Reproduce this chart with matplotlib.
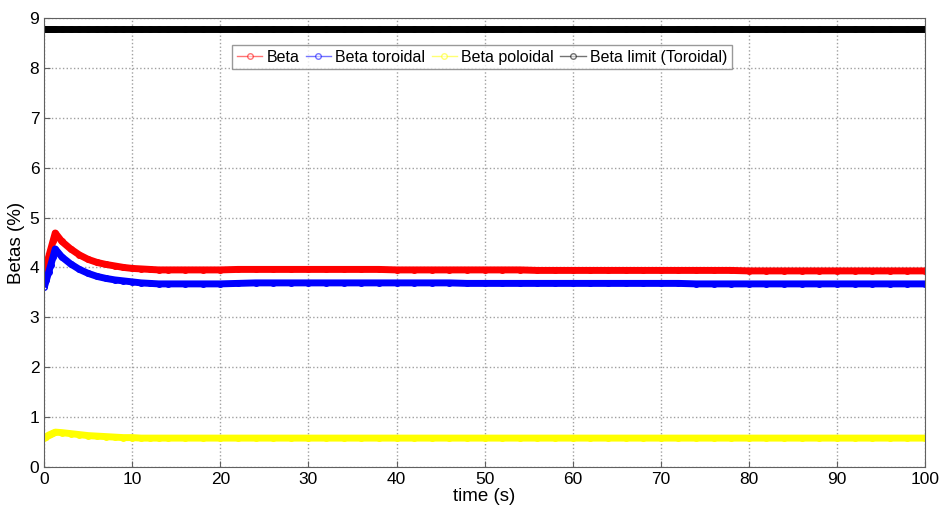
import matplotlib
matplotlib.use("Agg")
import matplotlib.pyplot as plt
from matplotlib.lines import Line2D

plt.rcParams['font.family'] = ['Liberation Sans', 'DejaVu Sans']

# time samples (s)
time = [0, 0.25, 0.5, 0.75, 1.0, 1.25, 2, 3, 4, 5, 6, 7, 8, 9, 10, 11, 12, 13, 14,
        16, 18, 20, 22, 24, 26, 28, 30, 32, 34, 36, 38, 40, 42, 44, 46, 48, 50,
        52, 54, 56, 58, 60, 62, 64, 66, 68, 70, 72, 74, 76, 78, 80, 82, 84, 86,
        88, 90, 92, 94, 96, 98, 100]

beta = [3.88, 4.05, 4.21, 4.37, 4.53, 4.69, 4.52, 4.37, 4.25, 4.16, 4.10, 4.06, 4.03,
        4.00, 3.98, 3.97, 3.96, 3.95, 3.95,
        3.95, 3.95, 3.95, 3.96, 3.96, 3.96, 3.96, 3.96, 3.96, 3.96, 3.96, 3.96, 3.95,
        3.95, 3.95, 3.95, 3.95, 3.95, 3.95, 3.95, 3.94, 3.94, 3.94, 3.94, 3.94, 3.94,
        3.94, 3.94, 3.94, 3.94, 3.94, 3.94, 3.93, 3.93, 3.93, 3.93, 3.93, 3.93, 3.93,
        3.93, 3.93, 3.93, 3.93]

beta_tor = [3.60, 3.75, 3.90, 4.05, 4.21, 4.37, 4.21, 4.07, 3.96, 3.88, 3.82, 3.78,
            3.75, 3.73, 3.71, 3.69, 3.68, 3.67, 3.67,
            3.67, 3.67, 3.67, 3.68, 3.69, 3.69, 3.69, 3.69, 3.69, 3.69, 3.69, 3.69,
            3.69, 3.69, 3.69, 3.69, 3.68, 3.68, 3.68, 3.68, 3.68, 3.68, 3.68, 3.68,
            3.68, 3.68, 3.68, 3.68, 3.68, 3.67, 3.67, 3.67, 3.67, 3.67, 3.67, 3.67,
            3.67, 3.67, 3.67, 3.67, 3.67, 3.67, 3.67]

beta_pol = [0.58, 0.61, 0.64, 0.66, 0.68, 0.70, 0.69, 0.67, 0.65, 0.63, 0.62, 0.61,
            0.60, 0.59, 0.59, 0.58, 0.58, 0.58, 0.58,
            0.58, 0.58, 0.58, 0.58, 0.58, 0.58, 0.58, 0.58, 0.58, 0.58, 0.58, 0.58,
            0.58, 0.58, 0.58, 0.58, 0.58, 0.58, 0.58, 0.58, 0.58, 0.58, 0.58, 0.58,
            0.58, 0.58, 0.58, 0.58, 0.58, 0.58, 0.58, 0.58, 0.58, 0.58, 0.58, 0.58,
            0.58, 0.58, 0.58, 0.58, 0.58, 0.58, 0.58]

beta_limit = [8.78] * len(time)

series = [
    (beta, '#ff0000', 'Beta'),
    (beta_tor, '#0000ff', 'Beta toroidal'),
    (beta_pol, '#ffff00', 'Beta poloidal'),
    (beta_limit, '#000000', 'Beta limit (Toroidal)'),
]

fig = plt.figure(figsize=(9.41, 5.11), dpi=100)
ax = fig.add_axes([0.047, 0.086, 0.936, 0.879])

for vals, col, lab in series:
    ax.plot(time, vals, color=col, lw=5, marker='o', markersize=4,
            markerfacecolor='none', markeredgecolor=col, markeredgewidth=1,
            solid_capstyle='butt', solid_joinstyle='round')

ax.set_xlim(0, 100)
ax.set_ylim(0, 9)
ax.set_xticks(range(0, 101, 10))
ax.set_yticks(range(0, 10))
ax.grid(True, color='#a0a0a0', linestyle=':', linewidth=1.0)
ax.tick_params(labelsize=12.5, direction='in', length=4, color='#606060')
for s in ax.spines.values():
    s.set_color('#606060')

ax.set_xlabel('time (s)', fontsize=13.5, labelpad=1)
ax.set_ylabel('Betas (%)', fontsize=13.5, labelpad=3)

handles = [Line2D([], [], color=col, lw=1, marker='o', markersize=4,
                  markerfacecolor='white', markeredgecolor=col, alpha=0.55)
           for _, col, _ in series]
labels = [lab for _, _, lab in series]
leg = ax.legend(handles, labels, loc='upper center', bbox_to_anchor=(0.497, 0.94),
                ncol=4, fontsize=11.5, frameon=True, fancybox=False,
                handlelength=1.6, handletextpad=0.25, columnspacing=0.4,
                borderpad=0.3, borderaxespad=0)
leg.get_frame().set_edgecolor('#808080')
leg.get_frame().set_linewidth(1.0)

fig.savefig('out.png', dpi=100)
